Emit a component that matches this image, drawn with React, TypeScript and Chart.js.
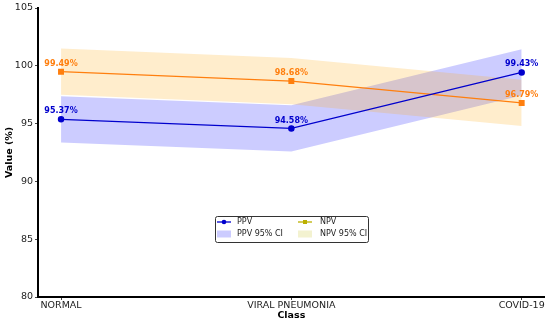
import React, { useEffect, useRef } from "react";
import { Chart, registerables } from "chart.js";

Chart.register(...registerables);

const categories = ["NORMAL", "VIRAL PNEUMONIA", "COVID-19"];
const ppv = [95.37, 94.58, 99.43];
const npv = [99.49, 98.68, 96.79];
const ppvLow = [93.37, 92.58, 97.43];
const ppvHigh = [97.37, 96.58, 101.43];
const npvLow = [97.49, 96.68, 94.79];
const npvHigh = [101.49, 100.68, 98.79];
const yTicks = [80, 85, 90, 95, 100, 105];

const FONT = "'DejaVu Sans', sans-serif";
const PPV_COLOR = "#0000cd";
const NPV_COLOR = "#ff7f0e";
const PPV_FILL = "rgba(0,0,255,0.2)";
const NPV_FILL = "rgba(255,165,0,0.2)";

const pts = (arr: number[]) => arr.map((y, i) => ({ x: i, y }));

const labelPlugin = {
  id: "valueLabels",
  afterDatasetsDraw(chart: any) {
    const ctx = chart.ctx;
    [4, 5].forEach((di) => {
      const ds = chart.data.datasets[di];
      const meta = chart.getDatasetMeta(di);
      ctx.save();
      ctx.font = `bold 8px ${FONT}`;
      ctx.fillStyle = ds.borderColor;
      ctx.textAlign = "center";
      ctx.textBaseline = "bottom";
      meta.data.forEach((el: any, i: number) => {
        ctx.fillText(ds.data[i].y.toFixed(2) + "%", el.x, el.y - 4);
      });
      ctx.restore();
    });
  },
};

const legendPlugin = {
  id: "customLegend",
  afterDraw(chart: any) {
    const ctx = chart.ctx;
    const x0 = 215.5, y0 = 216.5, w = 153, h = 26;
    ctx.save();
    ctx.fillStyle = "rgba(255,255,255,0.9)";
    ctx.strokeStyle = "#333";
    ctx.lineWidth = 1;
    ctx.beginPath();
    const r = 2;
    ctx.moveTo(x0 + r, y0);
    ctx.arcTo(x0 + w, y0, x0 + w, y0 + h, r);
    ctx.arcTo(x0 + w, y0 + h, x0, y0 + h, r);
    ctx.arcTo(x0, y0 + h, x0, y0, r);
    ctx.arcTo(x0, y0, x0 + w, y0, r);
    ctx.closePath();
    ctx.fill();
    ctx.stroke();

    const row1 = 222, row2 = 234;
    const drawLine = (x: number, y: number, color: string, marker: string) => {
      ctx.strokeStyle = color;
      ctx.fillStyle = color;
      ctx.lineWidth = 1.3;
      ctx.beginPath();
      ctx.moveTo(x, y);
      ctx.lineTo(x + 14, y);
      ctx.stroke();
      if (marker === "circle") {
        ctx.beginPath();
        ctx.arc(x + 7, y, 2.3, 0, Math.PI * 2);
        ctx.fill();
      } else {
        ctx.fillRect(x + 5, y - 2, 4, 4);
      }
    };
    drawLine(217, row1, PPV_COLOR, "circle");
    drawLine(298, row1, "#bcb000", "rect");
    ctx.fillStyle = PPV_FILL;
    ctx.fillRect(217, row2 - 3.5, 14, 7);
    ctx.fillStyle = "rgba(200,195,40,0.22)";
    ctx.fillRect(298, row2 - 3.5, 14, 7);

    ctx.fillStyle = "#222";
    ctx.font = `8px ${FONT}`;
    ctx.textAlign = "left";
    ctx.textBaseline = "middle";
    ctx.fillText("PPV", 237, row1);
    ctx.fillText("NPV", 320, row1);
    ctx.fillText("PPV 95% CI", 237, row2);
    ctx.fillText("NPV 95% CI", 320, row2);
    ctx.restore();
  },
};

export default function App() {
  const ref = useRef<HTMLCanvasElement | null>(null);
  useEffect(() => {
    document.body.style.margin = "0";
    if (!ref.current) return;
    const hidden = { pointRadius: 0, borderWidth: 0, borderColor: "transparent" };
    const chart = new Chart(ref.current, {
      type: "line",
      data: {
        datasets: [
          { label: "ppvLow", data: pts(ppvLow), ...hidden, fill: false, order: 2 } as any,
          { label: "PPV 95% CI", data: pts(ppvHigh), ...hidden, fill: "-1", backgroundColor: PPV_FILL, order: 2 } as any,
          { label: "npvLow", data: pts(npvLow), ...hidden, fill: false, order: 1 } as any,
          { label: "NPV 95% CI", data: pts(npvHigh), ...hidden, fill: "-1", backgroundColor: NPV_FILL, order: 1 } as any,
          {
            label: "PPV", data: pts(ppv), borderColor: PPV_COLOR, backgroundColor: PPV_COLOR,
            borderWidth: 1.3, pointStyle: "circle", pointRadius: 2.6, fill: false, order: 0,
          } as any,
          {
            label: "NPV", data: pts(npv), borderColor: NPV_COLOR, backgroundColor: NPV_COLOR,
            borderWidth: 1.3, pointStyle: "rect", pointRadius: 3.3, fill: false, order: 0,
          } as any,
        ],
      },
      options: {
        animation: false,
        responsive: false,
        maintainAspectRatio: false,
        layout: { padding: { left: 0, top: 8, right: 5, bottom: 0 } },
        plugins: { legend: { display: false }, tooltip: { enabled: false } },
        elements: { line: { tension: 0 } },
        scales: {
          x: {
            type: "linear",
            min: -0.1,
            max: 2.1,
            afterBuildTicks: (s: any) => {
              s.ticks = categories.map((_, i) => ({ value: i }));
            },
            afterFit: (s: any) => {
              s.height = 28;
            },
            ticks: {
              callback: (v: any) => categories[v] ?? "",
              font: { family: FONT, size: 9.5 },
              color: "#222",
              padding: 0,
              maxRotation: 0,
              autoSkip: false,
            },
            grid: { display: true, drawOnChartArea: false, drawTicks: true, tickLength: 3, color: "#444" },
            border: { display: true, color: "#000", width: 2 },
            title: {
              display: true,
              text: "Class",
              font: { family: FONT, size: 9.5, weight: "bold" },
              color: "#000",
              padding: { top: 0, bottom: 4 },
            },
          },
          y: {
            type: "linear",
            min: 80,
            max: 105,
            afterBuildTicks: (s: any) => {
              s.ticks = yTicks.map((v) => ({ value: v }));
            },
            afterFit: (s: any) => {
              s.width = 38;
            },
            ticks: {
              font: { family: FONT, size: 9.5 },
              color: "#222",
              padding: 2,
            },
            grid: { display: true, drawOnChartArea: false, drawTicks: true, tickLength: 3, color: "#444" },
            border: { display: true, color: "#000", width: 2 },
            title: {
              display: true,
              text: "Value (%)",
              font: { family: FONT, size: 9.5, weight: "bold" },
              color: "#000",
              padding: { top: 4, bottom: 0 },
            },
          },
        },
      } as any,
      plugins: [labelPlugin, legendPlugin],
    });
    return () => chart.destroy();
  }, []);
  return (
    <div style={{ width: 550, height: 325 }}>
      <canvas ref={ref} width={550} height={325} style={{ display: "block" }} />
    </div>
  );
}
